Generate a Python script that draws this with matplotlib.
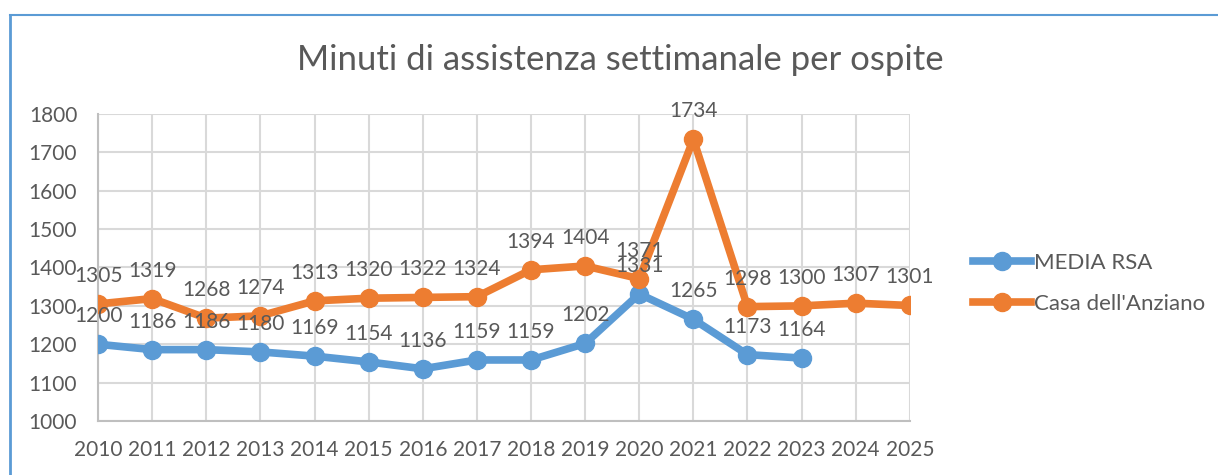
import matplotlib.pyplot as plt
from matplotlib.lines import Line2D

plt.rcParams['font.family'] = ['Lato', 'DejaVu Sans']

# data
years = list(range(2010, 2026))
years_rsa = list(range(2010, 2024))
media_rsa = [1200, 1186, 1186, 1180, 1169, 1154, 1136, 1159, 1159, 1202, 1331, 1265, 1173, 1164]
casa_anziano = [1305, 1319, 1268, 1274, 1313, 1320, 1322, 1324, 1394, 1404, 1371, 1734, 1298, 1300, 1307, 1301]
y_ticks = [1000, 1100, 1200, 1300, 1400, 1500, 1600, 1700, 1800]

blue = '#5B9BD5'
orange = '#ED7D31'
txt = '#595959'

fig = plt.figure(figsize=(12.18, 4.75), dpi=100)
ax = fig.add_axes([0.0805, 0.1137, 0.6665, 0.6463])

ax.plot(years_rsa, media_rsa, color=blue, lw=5.5, marker='o', ms=13, label='MEDIA RSA', zorder=3)
ax.plot(years, casa_anziano, color=orange, lw=5.5, marker='o', ms=13, label="Casa dell'Anziano", zorder=4)

# data labels above each point
for x, y in zip(years_rsa, media_rsa):
    ax.annotate(str(y), (x, y), xytext=(0, 13), textcoords='offset points',
                ha='center', va='bottom', fontsize=15, color=txt, zorder=5)
for x, y in zip(years, casa_anziano):
    ax.annotate(str(y), (x, y), xytext=(0, 13), textcoords='offset points',
                ha='center', va='bottom', fontsize=15, color=txt, zorder=5)

ax.set_xlim(2010, 2025)
ax.set_ylim(1000, 1800)
ax.set_xticks(years)
ax.set_yticks(y_ticks)
ax.grid(True, color='#D9D9D9', lw=1.5)
ax.set_axisbelow(True)
for s in ['top', 'right']:
    ax.spines[s].set_visible(False)
for s in ['left', 'bottom']:
    ax.spines[s].set_color('#BFBFBF')
    ax.spines[s].set_linewidth(1.5)
ax.tick_params(axis='both', length=0, labelsize=15, labelcolor=txt)
ax.tick_params(axis='y', pad=15)
ax.tick_params(axis='x', pad=14)

fig.text(0.509, 0.873, 'Minuti di assistenza settimanale per ospite', ha='center', va='center',
         fontsize=25, color=txt)

fig.legend(loc='center left', bbox_to_anchor=(973 / 1218, 0.403), frameon=False, fontsize=16,
           labelcolor=txt, handlelength=2.6, handletextpad=0.15, labelspacing=0.95,
           borderpad=0, borderaxespad=0)

# chart frame
fig.add_artist(Line2D([10 / 1218, 1], [1 - 15 / 475, 1 - 15 / 475], color=blue, lw=1.5, transform=fig.transFigure))
fig.add_artist(Line2D([10 / 1218, 10 / 1218], [0, 1 - 15 / 475], color=blue, lw=2, transform=fig.transFigure))

plt.savefig('out.png', dpi=100)
